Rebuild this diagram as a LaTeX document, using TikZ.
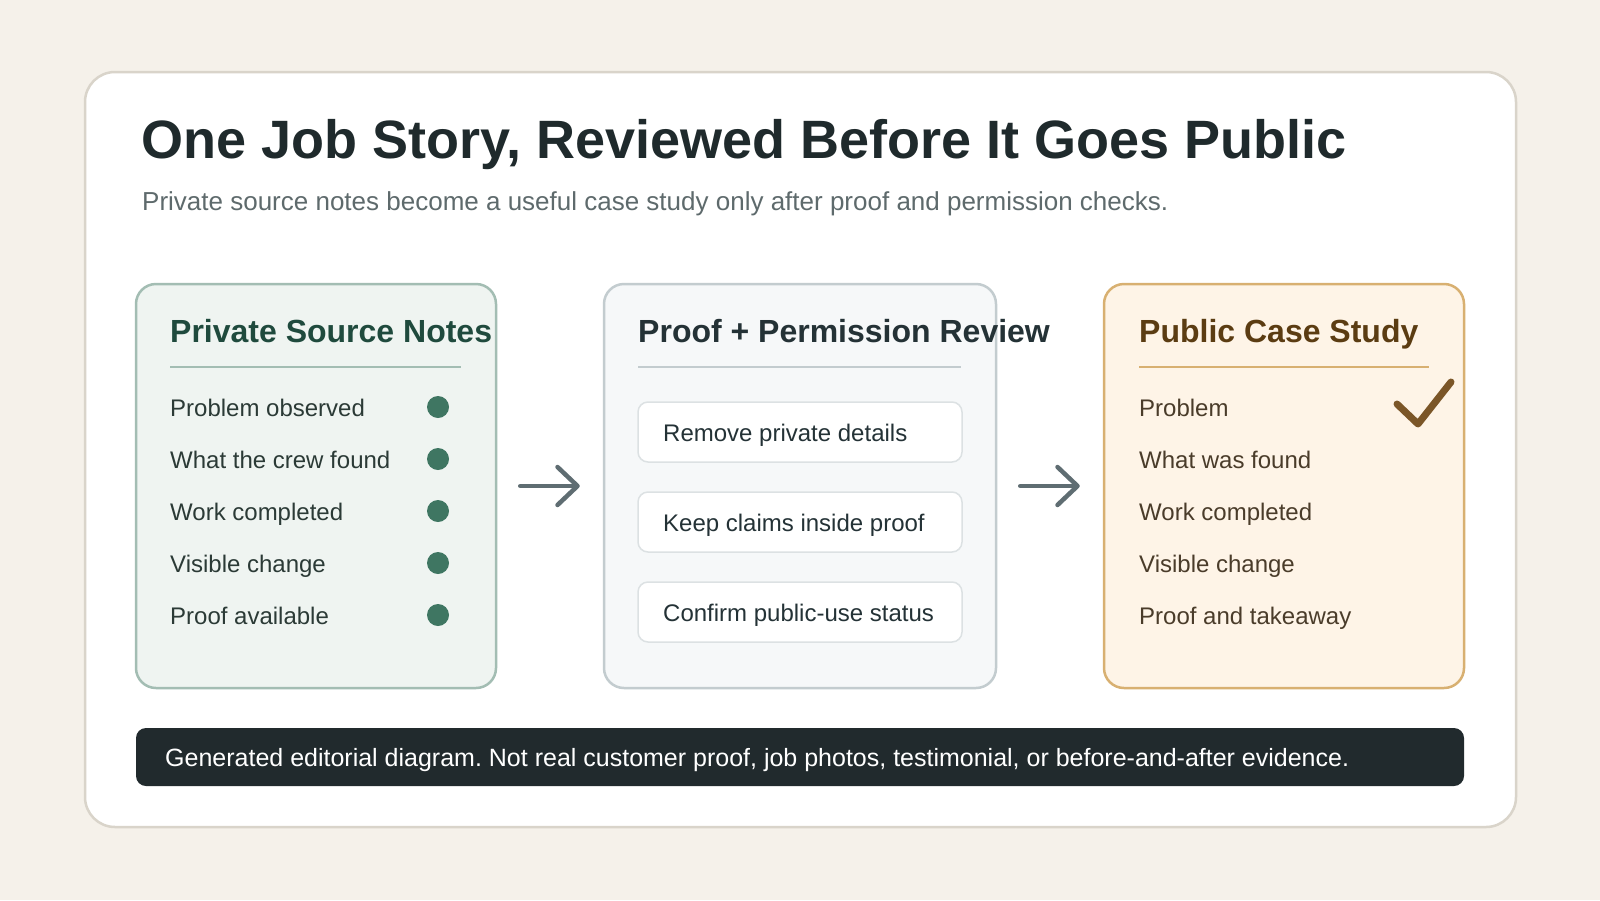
\documentclass[tikz,border=0pt]{standalone}
\usepackage{fontspec}
\setmainfont{Liberation Sans}
\usetikzlibrary{arrows.meta,positioning,calc}
\frenchspacing
\definecolor{pagecream}{HTML}{F5F1EA}
\definecolor{cardline}{HTML}{D9D4CA}
\definecolor{inkdark}{HTML}{1F2A2C}
\definecolor{subgray}{HTML}{5E6A6C}
\definecolor{srcfill}{HTML}{EFF4F1}
\definecolor{srcline}{HTML}{A3BDB3}
\definecolor{srchead}{HTML}{1F4A3D}
\definecolor{srctext}{HTML}{2B3A36}
\definecolor{dotgreen}{HTML}{3F7662}
\definecolor{revfill}{HTML}{F6F8F9}
\definecolor{revline}{HTML}{C3CCCF}
\definecolor{revhead}{HTML}{243236}
\definecolor{chipline}{HTML}{DCE1E3}
\definecolor{pubfill}{HTML}{FEF4E7}
\definecolor{publine}{HTML}{D8B071}
\definecolor{pubhead}{HTML}{5B3C12}
\definecolor{pubtext}{HTML}{4A3C2A}
\definecolor{checkbrown}{HTML}{7B5628}
\definecolor{arrowgray}{HTML}{5F6D72}
\definecolor{footdark}{HTML}{212A2D}

\begin{document}
\begin{tikzpicture}[x=1pt, y=-1pt,
  panel/.style={rectangle, rounded corners=20pt, line width=2.5pt,
    minimum width=360pt, minimum height=404pt},
  head/.style={anchor=base west, inner sep=0pt,
    font=\fontsize{32}{38}\selectfont\bfseries},
  item/.style={anchor=base west, inner sep=0pt,
    font=\fontsize{24}{29}\selectfont},
  dot/.style={circle, fill=dotgreen, minimum size=22pt, inner sep=0pt},
  chip/.style={rectangle, rounded corners=10pt, draw=chipline, line width=1.5pt,
    fill=white, minimum width=324pt, minimum height=60pt},
  arrow/.style={-{Straight Barb[length=20pt 0, width=38pt 0, round]},
    line width=4.5pt, line cap=round, draw=arrowgray}
]
\useasboundingbox[fill=pagecream] (0,0) rectangle (1600,900);

% Card
\draw[fill=white, draw=cardline, line width=2.5pt, rounded corners=30pt]
  (85,72) rectangle (1516,827);

% Title
\node[anchor=base west, inner sep=0pt, text=inkdark,
  font=\fontsize{54}{60}\selectfont\bfseries] (ttl) at (141,158)
  {One Job Story, Reviewed Before It Goes Public};
\node[anchor=base west, inner sep=0pt, text=subgray,
  font=\fontsize{26}{31}\selectfont] (subttl) at (142,210)
  {Private source notes become a useful case study only after proof and permission checks.};

% Panels
\node[panel, fill=srcfill, draw=srcline] (src) at (316,486) {};
\node[panel, fill=revfill, draw=revline, minimum width=392pt] (rev) at (800,486) {};
\node[panel, fill=pubfill, draw=publine] (pub) at (1284,486) {};

% Private source notes
\node[head, text=srchead] (srchd) at (170,342) {Private Source Notes};
\draw[srcline, line width=2.5pt] (170,367) -- (461,367);
\foreach \txt [count=\i] in {Problem observed, What the crew found,
  Work completed, Visible change, Proof available} {
  \node[item, text=srctext] (src\i) at (170,{364+52*\i}) {\txt};
  \node[dot] (dot\i) at (438,{355+52*\i}) {};
}

% Review
\node[head, text=revhead] (revhd) at (638,342) {Proof + Permission Review};
\draw[revline, line width=2.5pt] (638,367) -- (961,367);
\node[chip] (chip1) at (800,432) {};
\node[chip] (chip2) at (800,522) {};
\node[chip] (chip3) at (800,612) {};
\node[item, text=revhead] (rv1) at (663,441) {Remove private details};
\node[item, text=revhead] (rv2) at (663,531) {Keep claims inside proof};
\node[item, text=revhead] (rv3) at (663,621) {Confirm public-use status};

% Public case study
\node[head, text=pubhead] (pubhd) at (1139,342) {Public Case Study};
\draw[publine, line width=2.5pt] (1139,367) -- (1429,367);
\foreach \txt [count=\i] in {Problem, What was found,
  Work completed, Visible change, Proof and takeaway} {
  \node[item, text=pubtext] (pub\i) at (1139,{364+52*\i}) {\txt};
}
\draw[checkbrown, line width=7pt, line cap=round, line join=round]
  (1397,404) -- (1418,424) -- (1451,382);

% Arrows
\draw[arrow, shorten <=23pt, shorten >=23pt] (src.east) -- (rev.west);
\draw[arrow, shorten <=23pt, shorten >=23pt] (rev.east) -- (pub.west);

% Footer
\node[rectangle, rounded corners=10pt, fill=footdark, minimum width=1328pt,
  minimum height=58pt] (foot) at (800,757) {};
\node[anchor=base west, inner sep=0pt, text=white,
  font=\fontsize{25}{30}\selectfont] (foottxt) at (165,766)
  {Generated editorial diagram. Not real customer proof, job photos, testimonial, or before-and-after evidence.};
\end{tikzpicture}
\end{document}
